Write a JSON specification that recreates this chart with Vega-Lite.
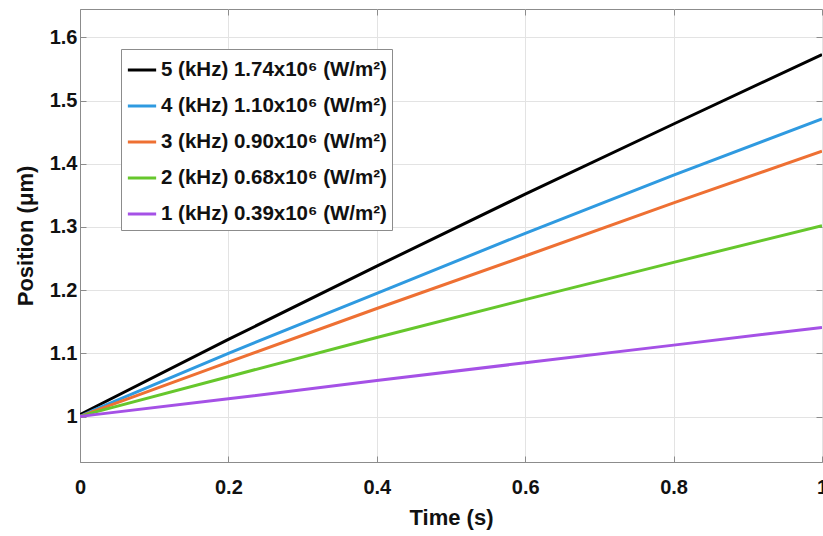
{
  "$schema": "https://vega.github.io/schema/vega-lite/v6.json",
  "width": 742,
  "height": 453,
  "autosize": {"type": "none"},
  "padding": {"left": 80, "top": 9, "right": 1, "bottom": 74},
  "background": "white",
  "config": {
    "view": {"stroke": "#8c8c8c", "strokeWidth": 1},
    "font": "Liberation Sans"
  },
  "data": {
    "values": [
      {"series": "5 (kHz) 1.74x10⁶ (W/m²)", "t": 0, "pos": 1.003},
      {"series": "5 (kHz) 1.74x10⁶ (W/m²)", "t": 0.02, "pos": 1.015},
      {"series": "5 (kHz) 1.74x10⁶ (W/m²)", "t": 0.2, "pos": 1.122},
      {"series": "5 (kHz) 1.74x10⁶ (W/m²)", "t": 0.4, "pos": 1.238},
      {"series": "5 (kHz) 1.74x10⁶ (W/m²)", "t": 0.6, "pos": 1.352},
      {"series": "5 (kHz) 1.74x10⁶ (W/m²)", "t": 0.8, "pos": 1.463},
      {"series": "5 (kHz) 1.74x10⁶ (W/m²)", "t": 1, "pos": 1.573},
      {"series": "4 (kHz) 1.10x10⁶ (W/m²)", "t": 0, "pos": 1.0},
      {"series": "4 (kHz) 1.10x10⁶ (W/m²)", "t": 0.02, "pos": 1.011},
      {"series": "4 (kHz) 1.10x10⁶ (W/m²)", "t": 0.2, "pos": 1.1},
      {"series": "4 (kHz) 1.10x10⁶ (W/m²)", "t": 0.4, "pos": 1.195},
      {"series": "4 (kHz) 1.10x10⁶ (W/m²)", "t": 0.6, "pos": 1.29},
      {"series": "4 (kHz) 1.10x10⁶ (W/m²)", "t": 0.8, "pos": 1.382},
      {"series": "4 (kHz) 1.10x10⁶ (W/m²)", "t": 1, "pos": 1.471},
      {"series": "3 (kHz) 0.90x10⁶ (W/m²)", "t": 0, "pos": 1.0},
      {"series": "3 (kHz) 0.90x10⁶ (W/m²)", "t": 0.02, "pos": 1.009},
      {"series": "3 (kHz) 0.90x10⁶ (W/m²)", "t": 0.2, "pos": 1.086},
      {"series": "3 (kHz) 0.90x10⁶ (W/m²)", "t": 0.4, "pos": 1.171},
      {"series": "3 (kHz) 0.90x10⁶ (W/m²)", "t": 0.6, "pos": 1.254},
      {"series": "3 (kHz) 0.90x10⁶ (W/m²)", "t": 0.8, "pos": 1.338},
      {"series": "3 (kHz) 0.90x10⁶ (W/m²)", "t": 1, "pos": 1.42},
      {"series": "2 (kHz) 0.68x10⁶ (W/m²)", "t": 0, "pos": 1.0},
      {"series": "2 (kHz) 0.68x10⁶ (W/m²)", "t": 0.02, "pos": 1.007},
      {"series": "2 (kHz) 0.68x10⁶ (W/m²)", "t": 0.2, "pos": 1.063},
      {"series": "2 (kHz) 0.68x10⁶ (W/m²)", "t": 0.4, "pos": 1.125},
      {"series": "2 (kHz) 0.68x10⁶ (W/m²)", "t": 0.6, "pos": 1.185},
      {"series": "2 (kHz) 0.68x10⁶ (W/m²)", "t": 0.8, "pos": 1.244},
      {"series": "2 (kHz) 0.68x10⁶ (W/m²)", "t": 1, "pos": 1.302},
      {"series": "1 (kHz) 0.39x10⁶ (W/m²)", "t": 0, "pos": 1.0},
      {"series": "1 (kHz) 0.39x10⁶ (W/m²)", "t": 0.02, "pos": 1.003},
      {"series": "1 (kHz) 0.39x10⁶ (W/m²)", "t": 0.2, "pos": 1.028},
      {"series": "1 (kHz) 0.39x10⁶ (W/m²)", "t": 0.4, "pos": 1.057},
      {"series": "1 (kHz) 0.39x10⁶ (W/m²)", "t": 0.6, "pos": 1.085},
      {"series": "1 (kHz) 0.39x10⁶ (W/m²)", "t": 0.8, "pos": 1.113},
      {"series": "1 (kHz) 0.39x10⁶ (W/m²)", "t": 1, "pos": 1.141}
    ]
  },
  "layer": [
    {
      "mark": {"type": "line", "strokeWidth": 3, "clip": true},
      "encoding": {
        "x": {
          "field": "t", "type": "quantitative",
          "scale": {"domain": [0, 1], "nice": false, "zero": false},
          "axis": {
            "title": "Time (s)", "titleFontSize": 22, "titleFontWeight": "bold", "titleColor": "#111",
            "titlePadding": 10,
            "values": [0, 0.2, 0.4, 0.6, 0.8, 1],
            "labelExpr": "datum.value == 0 ? '0' : datum.value == 1 ? '1' : format(datum.value, '.1f')",
            "labelFontSize": 20, "labelFontWeight": "bold", "labelColor": "#111",
            "labelPadding": 21, "labelFlush": false, "labelOverlap": false,
            "tickSize": -6, "tickColor": "#8c8c8c",
            "domainColor": "#8c8c8c",
            "grid": true, "gridColor": "#e3e3e3", "gridWidth": 1
          }
        },
        "y": {
          "field": "pos", "type": "quantitative",
          "scale": {"domain": [0.928, 1.645], "nice": false, "zero": false},
          "axis": {
            "title": "Position (μm)", "titleFontSize": 22, "titleFontWeight": "bold", "titleColor": "#111",
            "titlePadding": 12,
            "values": [1, 1.1, 1.2, 1.3, 1.4, 1.5, 1.6],
            "labelExpr": "datum.value == 1 ? '1' : format(datum.value, '.1f')",
            "labelFontSize": 20, "labelFontWeight": "bold", "labelColor": "#111",
            "labelPadding": 9, "labelFlush": false, "labelOverlap": false,
            "tickSize": -6, "tickColor": "#8c8c8c",
            "domainColor": "#8c8c8c",
            "grid": true, "gridColor": "#e3e3e3", "gridWidth": 1
          }
        },
        "color": {
          "field": "series", "type": "nominal",
          "sort": ["5 (kHz) 1.74x10⁶ (W/m²)", "4 (kHz) 1.10x10⁶ (W/m²)", "3 (kHz) 0.90x10⁶ (W/m²)", "2 (kHz) 0.68x10⁶ (W/m²)", "1 (kHz) 0.39x10⁶ (W/m²)"],
          "scale": {
            "domain": ["5 (kHz) 1.74x10⁶ (W/m²)", "4 (kHz) 1.10x10⁶ (W/m²)", "3 (kHz) 0.90x10⁶ (W/m²)", "2 (kHz) 0.68x10⁶ (W/m²)", "1 (kHz) 0.39x10⁶ (W/m²)"],
            "range": ["#000000", "#2f9ae0", "#ee7033", "#66c72c", "#a551e6"]
          },
          "legend": {
            "title": null,
            "orient": "none",
            "legendX": 41,
            "legendY": 40,
            "direction": "vertical",
            "symbolType": "stroke",
            "symbolSize": 800,
            "symbolStrokeWidth": 3,
            "labelFontSize": 20.5,
            "labelFontWeight": "bold",
            "labelColor": "#111",
            "labelOffset": 3,
            "rowPadding": 9,
            "padding": 5,
            "strokeColor": "#8c8c8c",
            "fillColor": "white",
            "labelLimit": 400
          }
        }
      }
    },
    {
      "mark": {"type": "line", "opacity": 0},
      "encoding": {
        "x": {
          "field": "t", "type": "quantitative",
          "axis": {"orient": "top", "title": null, "labels": false, "grid": false, "domain": false,
                   "values": [0, 0.2, 0.4, 0.6, 0.8, 1], "tickSize": -6, "tickColor": "#8c8c8c"}
        },
        "y": {
          "field": "pos", "type": "quantitative",
          "axis": {"orient": "right", "title": null, "labels": false, "grid": false, "domain": false,
                   "values": [1, 1.1, 1.2, 1.3, 1.4, 1.5, 1.6], "tickSize": -6, "tickColor": "#8c8c8c"}
        },
        "detail": {"field": "series"}
      }
    }
  ],
  "resolve": {"axis": {"x": "independent", "y": "independent"}}
}
